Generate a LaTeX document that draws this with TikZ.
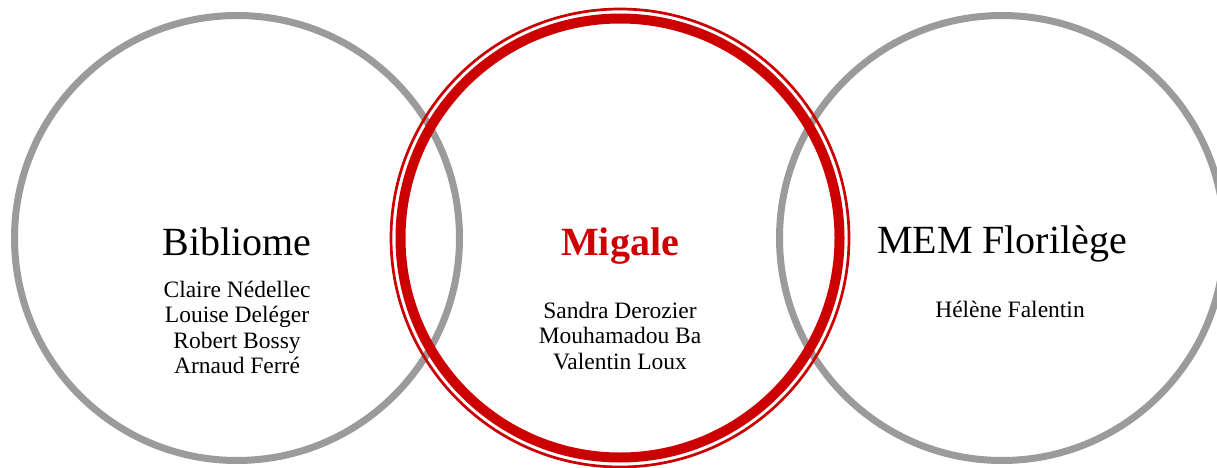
\documentclass[tikz,border=0pt]{standalone}
\usepackage{fontspec}
\setmainfont{Liberation Serif}
\definecolor{ringgray}{HTML}{9B9B9B}
\definecolor{migred}{HTML}{CC0000}
\begin{document}
\begin{tikzpicture}[x=1pt,y=-1pt,
  grayring/.style={draw=ringgray,line width=7pt},
  thickred/.style={draw=migred,line width=10pt},
  thinred/.style={draw=migred,line width=2.7pt},
  title/.style={anchor=base,inner sep=0pt,font=\fontsize{40}{42}\selectfont},
  person/.style={anchor=base,inner sep=0pt,font=\fontsize{23.5}{25}\selectfont}]
\useasboundingbox (0,0) rectangle (1217,468);
\begin{scope}
  \clip (0,0) rectangle (1217,468);
  \draw[grayring] (237,238) circle[radius=222.5];
  \draw[grayring] (1002,238) circle[radius=222.5];
  \draw[thinred] (620,238) circle[radius=229];
  \draw[thickred] (620,238) circle[radius=219.5];
\end{scope}
% Bibliome
\node[title] (bib) at (237,255) {Bibliome};
\node[person] (b1) at (237,297) {Claire Nédellec};
\node[person] (b2) at (237,322.5) {Louise Deléger};
\node[person] (b3) at (237,348) {Robert Bossy};
\node[person] (b4) at (237,373) {Arnaud Ferré};
% Migale
\node[title,text=migred,font=\fontsize{40}{42}\selectfont\bfseries] (mig) at (620,255) {Migale};
\node[person] (m1) at (620,318) {Sandra Derozier};
\node[person] (m2) at (620,343.5) {Mouhamadou Ba};
\node[person] (m3) at (620,369) {Valentin Loux};
% MEM Florilege
\node[title] (mem) at (1002,253) {MEM Florilège};
\node[person] (f1) at (1010,317) {Hélène Falentin};
\end{tikzpicture}
\end{document}
